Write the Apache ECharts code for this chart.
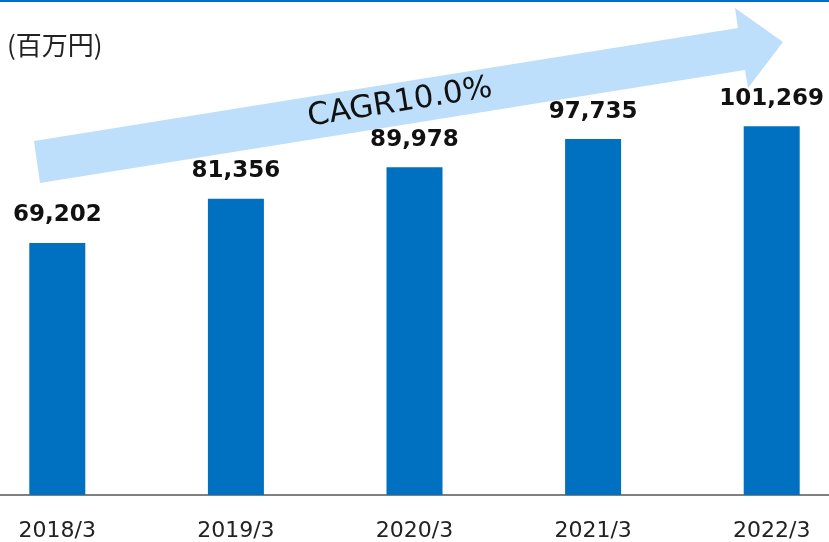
<!DOCTYPE html>
<html>
<head>
<meta charset="utf-8">
<script src="https://cdn.jsdelivr.net/npm/echarts@6/dist/echarts.min.js"></script>
<style>
html, body { margin: 0; padding: 0; background: #fff; }
#chart { width: 829px; height: 542px; }
</style>
</head>
<body>
<div id="chart"></div>
<script>
// 売上高 (百万円)
const categories = ['2018/3', '2019/3', '2020/3', '2021/3', '2022/3'];
const sales = [69202, 81356, 89978, 97735, 101269];
const unitLabel = '(百万円)';
const cagrLabel = 'CAGR10.0%';

const chart = echarts.init(document.getElementById('chart'));

const option = {
    animation: false,
    grid: {
        left: -32,
        right: -32,
        top: 58,
        bottom: 47,
        outerBoundsMode: 'none',
        containLabel: false,
    },
    xAxis: {
        type: 'category',
        data: categories,
        axisTick: { show: false },
        axisLine: {
            lineStyle: { color: '#808080', width: 2 },
        },
        axisLabel: {
            margin: 25,
            fontSize: 22,
            color: '#222',
            fontFamily: 'DejaVu Sans',
        },
    },
    yAxis: {
        type: 'value',
        min: 0,
        max: 120000,
        show: false,
    },
    graphic: [
        {
            type: 'rect',
            shape: { x: 0, y: 0, width: 829, height: 2 },
            style: { fill: '#0070C0' },
        },
        {
            type: 'polygon',
            shape: {
                points: [[34, 141], [738, 28], [735, 8], [783, 42], [748, 88], [745, 70], [40, 183]],
            },
            style: { fill: '#BDDFFB' },
        },
        {
            type: 'text',
            x: 400,
            y: 103,
            rotation: 9.1 * Math.PI / 180,
            style: {
                text: cagrLabel,
                fontSize: 31,
                fontFamily: 'DejaVu Sans',
                fill: '#111',
                align: 'center',
                verticalAlign: 'middle',
            },
        },
        {
            type: 'text',
            x: 7,
            y: 45,
            style: {
                text: unitLabel,
                fontSize: 26,
                fontFamily: 'Noto Sans CJK JP',
                fill: '#222',
                verticalAlign: 'middle',
            },
        },
    ],
    series: [
        {
            type: 'bar',
            data: sales,
            barWidth: 56,
            itemStyle: { color: '#0070C0' },
            label: {
                show: true,
                position: 'top',
                distance: 16,
                fontSize: 23,
                fontWeight: 'bold',
                fontFamily: 'DejaVu Sans',
                color: '#111',
                formatter: (p) => p.value.toLocaleString('en-US'),
            },
        },
    ],
};

chart.setOption(option);
</script>
</body>
</html>
